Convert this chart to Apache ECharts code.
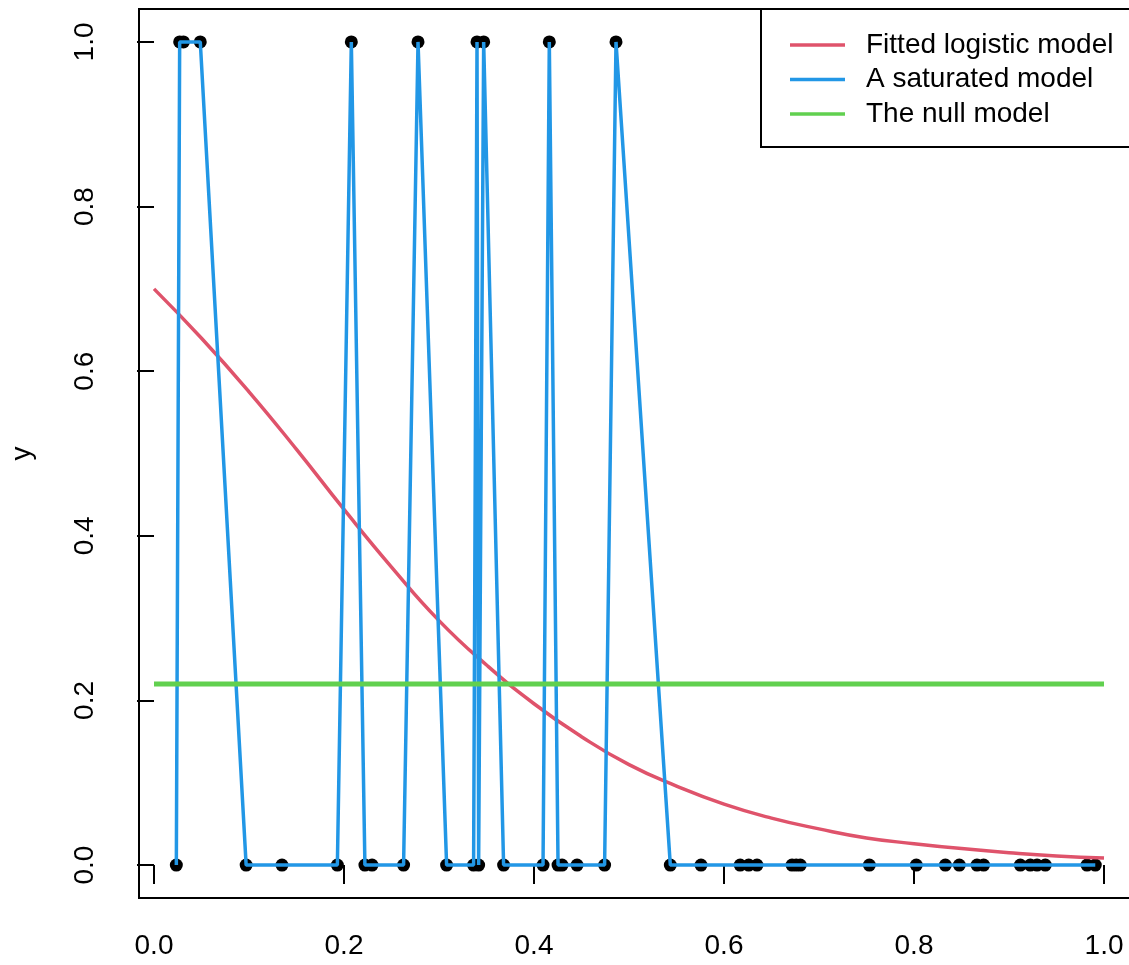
<!DOCTYPE html>
<html>
<head>
<meta charset="utf-8">
<script src="https://cdn.jsdelivr.net/npm/echarts@6/dist/echarts.min.js"></script>
<style>
html,body{margin:0;padding:0;background:#fff;}
#chart{width:1129px;height:965px;}
</style>
</head>
<body>
<div id="chart"></div>
<script>
// Observed data points (x, y), sorted by x
const pointX = [0.0235, 0.027, 0.031, 0.0487, 0.097, 0.1347, 0.193, 0.2077, 0.222, 0.2295,
  0.2627, 0.2779, 0.308, 0.3364, 0.340, 0.3417, 0.347, 0.368, 0.4095, 0.4161,
  0.4253, 0.4295, 0.4453, 0.4743, 0.4863, 0.5435, 0.5758, 0.617, 0.626, 0.6347,
  0.6716, 0.676, 0.6803, 0.753, 0.8024, 0.833, 0.8477, 0.8663, 0.8733, 0.9119,
  0.9224, 0.9295, 0.9382, 0.9821, 0.9908];
const pointY = [0, 1, 1, 1, 0, 0, 0, 1, 0, 0,
  0, 1, 0, 0, 1, 0, 1, 0, 0, 1,
  0, 0, 0, 0, 1, 0, 0, 0, 0, 0,
  0, 0, 0, 0, 0, 0, 0, 0, 0, 0,
  0, 0, 0, 0, 0];
// Fitted logistic curve
const curveX = [0, 0.05, 0.1, 0.15, 0.2, 0.25, 0.3, 0.35, 0.4, 0.45, 0.5,
  0.55, 0.6, 0.65, 0.7, 0.75, 0.8, 0.85, 0.9, 0.95, 1.0];
const curveY = [0.70, 0.64, 0.575, 0.505, 0.432, 0.362, 0.297, 0.243, 0.196, 0.156, 0.122,
  0.096, 0.074, 0.057, 0.044, 0.033, 0.026, 0.020, 0.015, 0.011, 0.0085];
// Null model
const nullX = [0, 1];
const nullY = [0.22, 0.22];
// Tick labels
const xTicks = [0, 0.2, 0.4, 0.6, 0.8, 1.0];
const yTicks = [0, 0.2, 0.4, 0.6, 0.8, 1.0];
const seriesNames = ['Fitted logistic model', 'A saturated model', 'The null model'];

const zip = (a, b) => a.map((v, i) => [v, b[i]]);
const FONT = "'Liberation Sans', Arial, Helvetica, sans-serif";

const chart = echarts.init(document.getElementById('chart'), null, {renderer: 'canvas'});
chart.setOption({
  animation: false,
  backgroundColor: '#fff',
  textStyle: {fontFamily: FONT},
  grid: {
    left: 139, top: 9, right: 0, height: 889, show: false
  },
  xAxis: {
    type: 'value', min: -0.0158, max: 1.0263,
    axisLine: {show: false},
    splitLine: {show: false},
    axisTick: {show: true, customValues: xTicks, length: 19, inside: false, lineStyle: {color: '#000', width: 2}},
    axisLabel: {customValues: xTicks, margin: 34, fontSize: 28, color: '#000', fontFamily: FONT,
      formatter: v => v.toFixed(1)}
  },
  yAxis: {
    type: 'value', min: -0.04, max: 1.04,
    name: 'y', nameLocation: 'middle', nameRotate: 90, nameGap: 103,
    nameTextStyle: {fontSize: 28, color: '#000', fontFamily: FONT},
    axisLine: {show: false},
    splitLine: {show: false},
    axisTick: {show: true, customValues: yTicks, length: 17, inside: false, lineStyle: {color: '#000', width: 2}},
    axisLabel: {customValues: yTicks, margin: 40, fontSize: 28, rotate: 90, color: '#000', fontFamily: FONT,
      formatter: v => v.toFixed(1)}
  },
  legend: {
    data: seriesNames,
    orient: 'vertical',
    left: 785, top: 25,
    icon: 'rect', itemWidth: 55, itemHeight: 3.5, itemGap: 4.5,
    textStyle: {fontSize: 28, color: '#000', fontFamily: FONT, lineHeight: 30, padding: [0, 0, 0, 16]}
  },
  graphic: [{
    type: 'rect', z: 10, silent: true,
    shape: {x: 139, y: 9, width: 1000, height: 889},
    style: {fill: 'none', stroke: '#000', lineWidth: 2}
  }, {
    type: 'rect', z: 10, silent: true,
    shape: {x: 761, y: 9, width: 420, height: 138},
    style: {fill: 'none', stroke: '#000', lineWidth: 2}
  }],
  series: [
    {
      name: 'points', type: 'scatter', data: zip(pointX, pointY),
      symbol: 'circle', symbolSize: 13, itemStyle: {color: '#000', opacity: 1}, z: 2
    },
    {
      name: seriesNames[0], type: 'line', data: zip(curveX, curveY), smooth: true,
      showSymbol: false, color: '#DF536B', lineStyle: {color: '#DF536B', width: 3.5}, z: 3
    },
    {
      name: seriesNames[1], type: 'line', data: zip(pointX, pointY),
      showSymbol: false, color: '#2297E6', lineStyle: {color: '#2297E6', width: 3.5}, z: 4
    },
    {
      name: seriesNames[2], type: 'line', data: zip(nullX, nullY),
      showSymbol: false, color: '#61D04F', lineStyle: {color: '#61D04F', width: 5}, z: 5
    }
  ]
});
</script>
</body>
</html>
